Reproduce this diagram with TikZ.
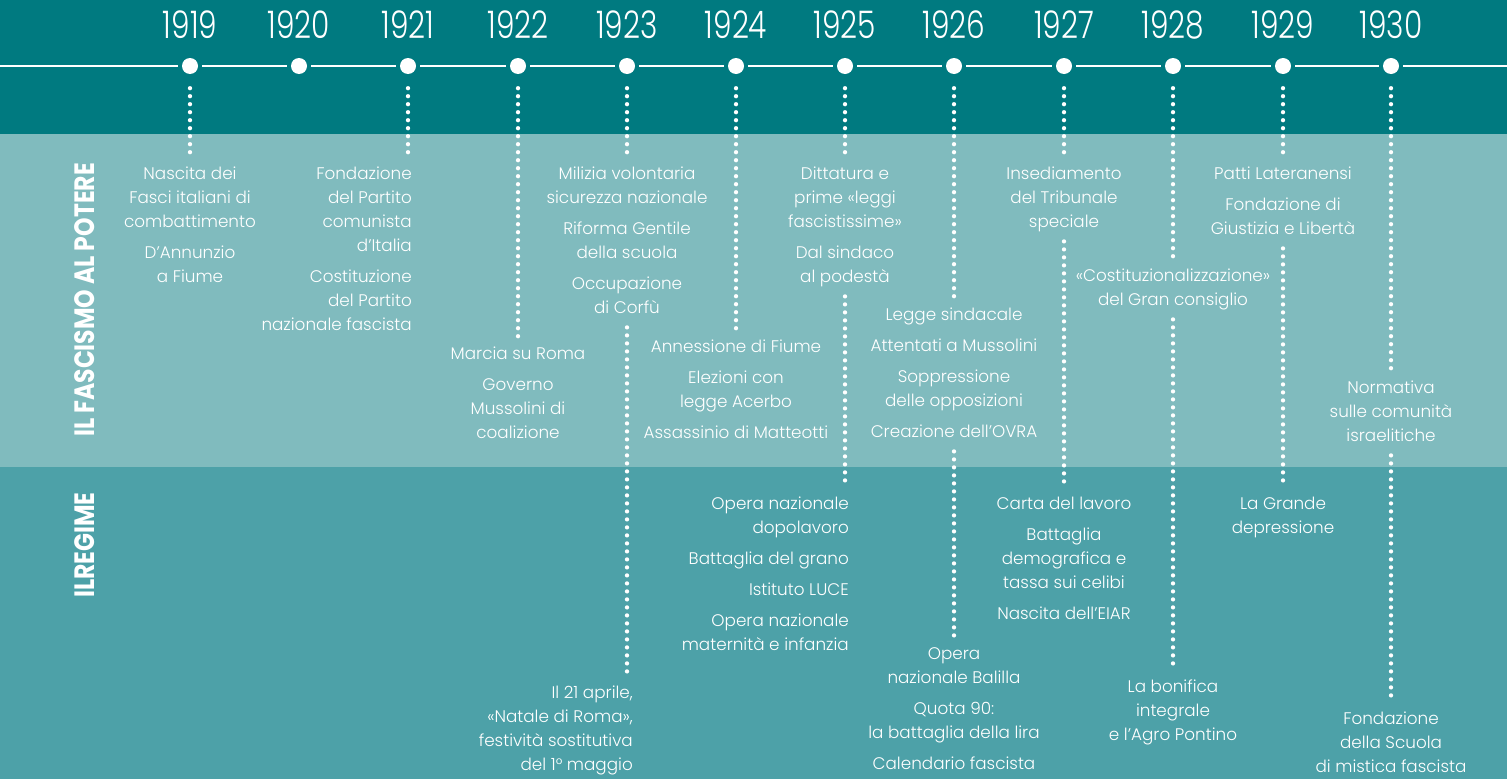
\documentclass[tikz,border=0pt]{standalone}
\usepackage{fontspec}
\IfFontExistsTF{Poppins Light}{%
  \setmainfont{Poppins Light}
  \newfontfamily\yearfont{Poppins Light}[FakeStretch=0.78]}{%
  \setmainfont{Poppins}
  \newfontfamily\yearfont{Poppins}[FakeStretch=0.78]}
\newfontfamily\bandfont{Poppins}[FakeStretch=0.84]
\definecolor{topteal}{RGB}{0,122,128}
\definecolor{midteal}{RGB}{128,187,190}
\definecolor{lowteal}{RGB}{77,161,168}
\newcommand\evfont{\fontsize{16.8}{24}\selectfont}
\tikzset{
  dot/.style={circle,fill=white,inner sep=0pt,minimum size=16pt},
  year/.style={text=white,inner sep=0pt,font=\yearfont\fontsize{38}{38}\selectfont},
  tline/.style={white,line width=2pt,shorten <=4pt,shorten >=4pt},
  dots/.style={white,line width=4.3pt,line cap=round,dash pattern=on 0pt off 8pt,shorten <=7pt,shorten >=4pt},
  ev/.style={text=white,inner sep=0pt,align=center,anchor=north,font=\evfont},
  evr/.style={ev,align=right,anchor=north east},
  band/.style={text=white,inner sep=0pt,rotate=90,font=\bandfont\bfseries\fontsize{28}{28}\selectfont}
}
\begin{document}
\begin{tikzpicture}[x=1pt,y=-1pt]
			\useasboundingbox (0,0) rectangle (1507,779);
			\fill[topteal] (0,0) rectangle (1507,134);
			\fill[midteal] (0,134) rectangle (1507,467);
			\fill[lowteal] (0,467) rectangle (1507,779);

			\node[band] (fascismo) at (85,300) {IL FASCISMO AL POTERE};
			\node[band] (regime) at (85,545) {ILREGIME};

			\node[dot] (c1919) at (190,66) {};
			\node[dot] (c1920) at (299,66) {};
			\node[dot] (c1921) at (408,66) {};
			\node[dot] (c1922) at (518,66) {};
			\node[dot] (c1923) at (627,66) {};
			\node[dot] (c1924) at (736,66) {};
			\node[dot] (c1925) at (845,66) {};
			\node[dot] (c1926) at (954,66) {};
			\node[dot] (c1927) at (1064,66) {};
			\node[dot] (c1928) at (1173,66) {};
			\node[dot] (c1929) at (1283,66) {};
			\node[dot] (c1930) at (1391,66) {};

			\node[year] (y1919) at (190,25) {1919};
			\node[year] (y1920) at (299,25) {1920};
			\node[year] (y1921) at (408,25) {1921};
			\node[year] (y1922) at (518,25) {1922};
			\node[year] (y1923) at (627,25) {1923};
			\node[year] (y1924) at (736,25) {1924};
			\node[year] (y1925) at (845,25) {1925};
			\node[year] (y1926) at (954,25) {1926};
			\node[year] (y1927) at (1064,25) {1927};
			\node[year] (y1928) at (1173,25) {1928};
			\node[year] (y1929) at (1283,25) {1929};
			\node[year] (y1930) at (1391,25) {1930};

			\coordinate (lend) at (0,66);
			\coordinate (rend) at (1507,66);
			\draw[tline,shorten <=0pt] (lend) -- (c1919);
			\draw[tline] (c1919) -- (c1920);
			\draw[tline] (c1920) -- (c1921);
			\draw[tline] (c1921) -- (c1922);
			\draw[tline] (c1922) -- (c1923);
			\draw[tline] (c1923) -- (c1924);
			\draw[tline] (c1924) -- (c1925);
			\draw[tline] (c1925) -- (c1926);
			\draw[tline] (c1926) -- (c1927);
			\draw[tline] (c1927) -- (c1928);
			\draw[tline] (c1928) -- (c1929);
			\draw[tline] (c1929) -- (c1930);
			\draw[tline,shorten >=0pt] (c1930) -- (rend);

			\node[ev] (t1919a) at (190,162) {\strut Nascita dei\\Fasci italiani di\\combattimento\\[7pt]D’Annunzio\\a Fiume\strut};
			\node[evr] (t1921a) at (412,162) {\strut Fondazione\\del Partito\\comunista\\d’Italia\\[7pt]Costituzione\\del Partito\\nazionale fascista\strut};
			\node[ev] (t1922a) at (518,342) {\strut Marcia su Roma\\[7pt]Governo\\Mussolini di\\coalizione\strut};
			\node[ev] (t1923a) at (627,162) {\strut Milizia volontaria\\sicurezza nazionale\\[7pt]Riforma Gentile\\della scuola\\[7pt]Occupazione\\di Corfù\strut};
			\node[evr] (t1923b) at (633,681) {\strut Il 21 aprile,\\«Natale di Roma»,\\festività sostitutiva\\del 1° maggio\strut};
			\node[ev] (t1924a) at (736,335) {\strut Annessione di Fiume\\[7pt]Elezioni con\\legge Acerbo\\[7pt]Assassinio di Matteotti\strut};
			\node[ev] (t1925a) at (845,162) {\strut Dittatura e\\prime «leggi\\fascistissime»\\[7pt]Dal sindaco\\al podestà\strut};
			\node[evr] (t1925b) at (849,492) {\strut Opera nazionale\\dopolavoro\\[7pt]Battaglia del grano\\[7pt]Istituto LUCE\\[7pt]Opera nazionale\\maternità e infanzia\strut};
			\node[ev] (t1926a) at (954,303) {\strut Legge sindacale\\[7pt]Attentati a Mussolini\\[7pt]Soppressione\\delle opposizioni\\[7pt]Creazione dell’OVRA\strut};
			\node[ev] (t1926b) at (954,642) {\strut Opera\\nazionale Balilla\\[7pt]Quota 90:\\la battaglia della lira\\[7pt]Calendario fascista\strut};
			\node[ev] (t1927a) at (1064,162) {\strut Insediamento\\del Tribunale\\speciale\strut};
			\node[ev] (t1927b) at (1064,492) {\strut Carta del lavoro\\[7pt]Battaglia\\demografica e\\tassa sui celibi\\[7pt]Nascita dell’EIAR\strut};
			\node[ev] (t1928a) at (1173,264) {\strut «Costituzionalizzazione»\\del Gran consiglio\strut};
			\node[ev] (t1928b) at (1173,675) {\strut La bonifica\\integrale\\e l’Agro Pontino\strut};
			\node[ev] (t1929a) at (1283,162) {\strut Patti Lateranensi\\[7pt]Fondazione di\\Giustizia e Libertà\strut};
			\node[ev] (t1929b) at (1283,492) {\strut La Grande\\depressione\strut};
			\node[ev] (t1930a) at (1391,376) {\strut Normativa\\sulle comunità\\israelitiche\strut};
			\node[ev] (t1930b) at (1391,707) {\strut Fondazione\\della Scuola\\di mistica fascista\strut};

			\draw[dots,shorten <=14pt] (c1919) -- (c1919 |- t1919a.north);
			\draw[dots,shorten <=14pt] (c1921) -- (c1921 |- t1921a.north);
			\draw[dots,shorten <=14pt] (c1922) -- (c1922 |- t1922a.north);
			\draw[dots,shorten <=14pt] (c1923) -- (c1923 |- t1923a.north);
			\draw[dots,shorten <=14pt] (c1924) -- (c1924 |- t1924a.north);
			\draw[dots,shorten <=14pt] (c1925) -- (c1925 |- t1925a.north);
			\draw[dots,shorten <=14pt] (c1926) -- (c1926 |- t1926a.north);
			\draw[dots,shorten <=14pt] (c1927) -- (c1927 |- t1927a.north);
			\draw[dots,shorten <=14pt] (c1928) -- (c1928 |- t1928a.north);
			\draw[dots,shorten <=14pt] (c1929) -- (c1929 |- t1929a.north);
			\draw[dots,shorten <=14pt] (c1930) -- (c1930 |- t1930a.north);

			\draw[dots] (c1923 |- t1923a.south) -- (c1923 |- t1923b.north);
			\draw[dots] (c1925 |- t1925a.south) -- (c1925 |- t1925b.north);
			\draw[dots] (c1926 |- t1926a.south) -- (c1926 |- t1926b.north);
			\draw[dots] (c1927 |- t1927a.south) -- (c1927 |- t1927b.north);
			\draw[dots] (c1928 |- t1928a.south) -- (c1928 |- t1928b.north);
			\draw[dots] (c1929 |- t1929a.south) -- (c1929 |- t1929b.north);
			\draw[dots] (c1930 |- t1930a.south) -- (c1930 |- t1930b.north);
		\end{tikzpicture}
\end{document}
